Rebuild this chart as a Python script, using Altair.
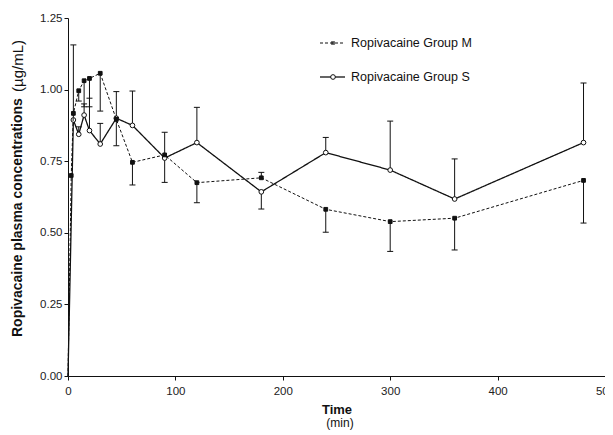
import altair as alt
import pandas as pd

# ---- data ----
m_time = [0, 3, 5, 10, 15, 20, 30, 45, 60, 90, 120, 180, 240, 300, 360, 480]
m_val = [0, 0.70, 0.917, 0.996, 1.031, 1.039, 1.057, 0.896, 0.746, 0.772, 0.675, 0.692, 0.582, 0.539, 0.551, 0.683]
m_err = [None, None, None, 0.96, 0.94, 0.94, 0.925, 0.804, 0.667, 0.851, 0.605, 0.711, 0.502, 0.435, 0.44, 0.534]

s_time = [0, 5, 10, 15, 20, 30, 45, 60, 90, 120, 180, 240, 300, 360, 480]
s_val = [0, 0.894, 0.844, 0.911, 0.857, 0.81, 0.90, 0.875, 0.761, 0.815, 0.643, 0.780, 0.719, 0.618, 0.815]
s_err = [None, 1.156, 0.87, 0.95, 0.97, 0.882, 0.993, 0.995, 0.676, 0.938, 0.583, 0.833, 0.890, 0.758, 1.023]

x_ticks = [0, 100, 200, 300, 400, 500]
y_ticks = [0, 0.25, 0.5, 0.75, 1.0, 1.25]
legend_labels = ["Ropivacaine Group M", "Ropivacaine Group S"]

FONT = "Liberation Sans"

m_df = pd.DataFrame({"time": m_time, "val": m_val, "err": m_err})
s_df = pd.DataFrame({"time": s_time, "val": s_val, "err": s_err})

xs = alt.X("time:Q", scale=alt.Scale(domain=[0, 500], nice=False),
           axis=alt.Axis(values=x_ticks, title="Time", titleFont=FONT, titleFontWeight="bold",
                         titleFontSize=13, titleColor="#111", titlePadding=7,
                         labelFont=FONT, labelFontSize=11.5, labelColor="#222",
                         domainColor="#111", tickColor="#111", tickSize=4, grid=False,
                         labelPadding=5, labelFlush=False, labelBound=False, labelOverlap=False))
ys = alt.Y("val:Q", scale=alt.Scale(domain=[0, 1.25], nice=False),
           axis=alt.Axis(values=y_ticks, format=".2f", title=None,
                         labelFont=FONT, labelFontSize=11.5, labelColor="#222",
                         domainColor="#111", tickColor="#111", tickSize=4, grid=False,
                         labelPadding=2, labelFlush=False))

def group_layers(df, dash, filled, shape, size, sw):
    base = alt.Chart(df)
    line = base.mark_line(color="#111", strokeWidth=sw, strokeDash=dash).encode(x=xs, y=ys)
    errdf = base.transform_filter("datum.err != null")
    rule = errdf.mark_rule(color="#111", strokeWidth=1).encode(x="time:Q", y="val:Q", y2="err:Q")
    cap = errdf.mark_rule(color="#111", strokeWidth=1, xOffset=-3, x2Offset=3).encode(
        x="time:Q", x2="time:Q", y="err:Q")
    pts = base.transform_filter("datum.time > 0").mark_point(
        shape=shape, size=size, filled=True, color="#111",
        fill="#111" if filled else "white", stroke="#111", strokeWidth=1, opacity=1
    ).encode(x="time:Q", y="val:Q")
    return [rule, cap, line, pts]

m_layers = group_layers(m_df, [3, 2], True, "square", 14, 1)
s_layers = group_layers(s_df, [1, 0], False, "circle", 22, 1.3)

# legend (manual, as in the reference)
leg = pd.DataFrame({"label": legend_labels})
leg_m = alt.Chart(leg.iloc[[0]])
leg_s = alt.Chart(leg.iloc[[1]])
lm_line = leg_m.mark_rule(color="#111", strokeWidth=1, strokeDash=[3, 2]).encode(
    x=alt.value(252), x2=alt.value(277), y=alt.value(25))
lm_pt = leg_m.mark_point(shape="square", size=14, filled=True, color="#111").encode(
    x=alt.value(265), y=alt.value(25))
ls_line = leg_s.mark_rule(color="#111", strokeWidth=1.3).encode(
    x=alt.value(252), x2=alt.value(277), y=alt.value(59))
ls_pt = leg_s.mark_point(shape="circle", size=22, filled=True, fill="white", stroke="#111",
                         strokeWidth=1, opacity=1).encode(x=alt.value(265), y=alt.value(59))
l_text_m = leg_m.mark_text(align="left", baseline="middle", font=FONT, fontSize=12.5,
                           color="#111").encode(x=alt.value(283), y=alt.value(25), text="label:N")
l_text_s = leg_s.mark_text(align="left", baseline="middle", font=FONT, fontSize=12.5,
                           color="#111").encode(x=alt.value(283), y=alt.value(59), text="label:N")

# axis title pieces
t_df = pd.DataFrame({"a": ["Ropivacaine plasma concentrations"], "b": ["(\u00b5g/mL)"], "c": ["(min)"]})
tchart = alt.Chart(t_df)
ytitle_bold = tchart.mark_text(angle=270, align="left", baseline="middle", font=FONT, fontSize=14,
                               fontWeight="bold", color="#111").encode(
    x=alt.value(-50), y=alt.value(319), text="a:N")
ytitle_unit = tchart.mark_text(angle=270, align="left", baseline="middle", font=FONT, fontSize=15,
                               color="#111").encode(
    x=alt.value(-50), y=alt.value(74), text="b:N")
xtitle_unit = tchart.mark_text(align="center", baseline="middle", font=FONT, fontSize=12,
                               color="#111").encode(
    x=alt.value(272), y=alt.value(405), text="c:N")

chart = alt.layer(
    *s_layers, *m_layers,
    lm_line, lm_pt, ls_line, ls_pt, l_text_m, l_text_s,
    ytitle_bold, ytitle_unit, xtitle_unit
).properties(
    width=537, height=358,
    padding={"left": 60, "top": 10, "right": 0, "bottom": 57},
    autosize=alt.AutoSizeParams(type="none"),
    background="white"
).configure_view(stroke=None)

chart.save("out.html", embed_options={"renderer": "svg", "actions": False})
